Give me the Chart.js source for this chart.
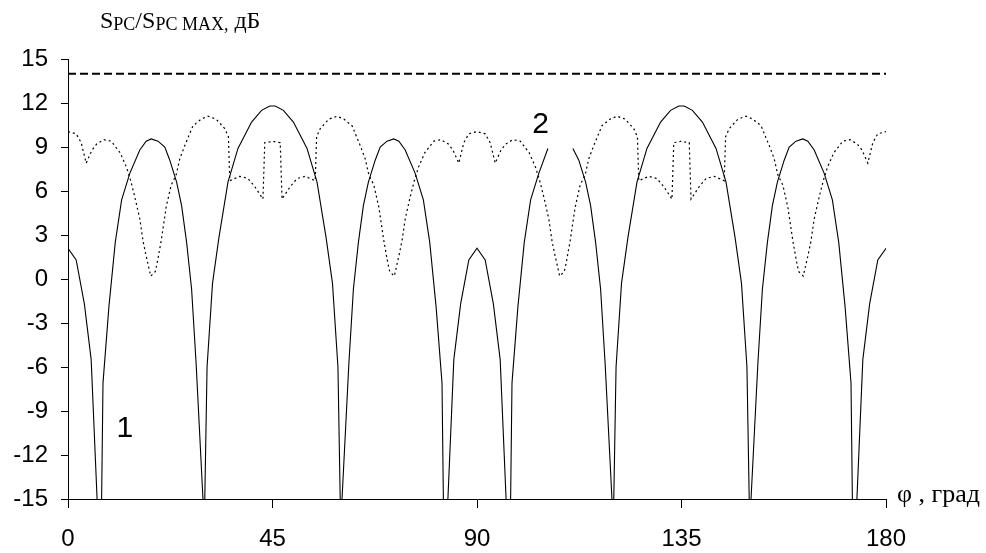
<!DOCTYPE html>
<html><head><meta charset="utf-8">
<script src="https://cdn.jsdelivr.net/npm/chart.js@4.4.1/dist/chart.umd.min.js"></script>
<style>html,body{margin:0;padding:0;background:#fff;}#wrap{width:986px;height:553px;position:relative;}</style>
</head><body><div id="wrap"><canvas id="c" width="986" height="553"></canvas></div>
<script>
// Curve 1 (solid): angle (deg) / value (dB); null = gap under label "2"
const solidAngles = [0,1.8,3.6,5.1,6.4,6.9,7.4,7.7,9.0,10.4,11.8,13.6,15.8,17.2,18.3,19.8,21.3,22.4,23.9,25.0,26.1,27.2,28.2,29.7,29.9,30.1,30.6,31.8,33.2,35.2,37.4,40.4,42.6,44.4,
45.6,47.4,49.6,52.6,54.8,56.8,58.2,59.4,59.9,60.1,60.3,61.8,62.8,63.9,65.0,66.1,67.6,68.7,70.2,71.7,72.8,74.2,76.4,78.2,79.6,81.0,82.3,82.6,83.1,83.6,84.9,86.4,88.2,90,
91.8,93.6,95.1,96.4,96.9,97.4,97.7,99.0,100.4,101.8,103.6,105.6,108.3,111.1,112.4,113.9,115.0,116.1,117.2,118.2,119.7,119.9,120.1,120.6,121.8,123.2,125.2,127.4,130.4,132.6,134.4,
135.6,137.4,139.6,142.6,144.8,146.8,148.2,149.4,149.9,150.1,150.3,151.8,152.8,153.9,155.0,156.1,157.6,158.7,160.2,161.7,162.8,164.2,166.4,168.2,169.6,171.0,172.3,172.6,173.1,173.6,174.9,176.4,178.2,180];
const solidValues = [2.1,1.3,-1.7,-5.5,-15,-40,-15,-7.1,-1.9,2.5,5.4,7.2,8.8,9.4,9.55,9.4,9.0,8.1,6.6,5.0,2.5,-0.7,-5.8,-15,-22,-15,-6.0,-0.3,2.8,6.6,8.9,10.7,11.5,11.8,
11.8,11.5,10.7,8.9,6.6,2.8,-0.3,-6.0,-15,-22,-15,-5.8,-0.7,2.5,5.0,6.6,8.1,9.0,9.4,9.55,9.4,8.8,7.2,5.4,2.5,-1.9,-7.1,-15,-40,-15,-5.5,-1.7,1.3,2.1,
1.3,-1.7,-5.5,-15,-40,-15,-7.1,-1.9,2.5,5.4,7.2,8.9,null,8.9,8.1,6.6,5.0,2.5,-0.7,-5.8,-15,-22,-15,-6.0,-0.3,2.8,6.6,8.9,10.7,11.5,11.8,
11.8,11.5,10.7,8.9,6.6,2.8,-0.3,-6.0,-15,-22,-15,-5.8,-0.7,2.5,5.0,6.6,8.1,9.0,9.4,9.55,9.4,8.8,7.2,5.4,2.5,-1.9,-7.1,-15,-40,-15,-5.5,-1.7,1.3,2.1];

// Curve 2 (dotted)
const dottedAngles = [0,1.8,2.9,4.0,5.3,6.3,7.9,9.5,11.5,12.9,13.8,14.7,15.8,16.5,17.1,18.2,19.2,19.6,20.5,21.6,22.7,23.8,24.6,25.7,27.5,29.3,30.8,32.6,34.5,35.3,35.6,37.8,39.6,41.1,42.9,43.3,44.4,45,
45.6,46.7,47.1,48.9,50.4,52.2,54.4,54.7,55.5,57.4,59.2,60.7,62.5,64.3,65.4,66.2,67.3,68.4,69.5,70.4,70.8,71.8,72.9,73.5,74.2,75.3,76.2,77.1,78.5,80.5,82.1,83.7,84.7,86.0,87.1,88.2,90,
91.8,92.9,94.0,95.3,96.3,97.9,99.5,101.5,102.9,103.8,104.7,105.8,106.5,107.1,108.2,109.2,109.6,110.5,111.6,112.7,113.8,114.6,115.7,117.5,119.3,120.8,122.6,124.5,125.3,125.6,127.8,129.6,131.1,132.9,133.3,134.4,135,
135.6,136.7,137.1,138.9,140.4,142.2,144.4,144.7,145.5,147.4,149.2,150.7,152.5,154.3,155.4,156.2,157.3,158.4,159.5,160.4,160.8,161.8,162.9,163.5,164.2,165.3,166.2,167.1,168.5,170.5,172.1,173.7,174.7,176.0,177.1,178.2,180];
const dottedValues = [10.05,9.9,9.3,7.9,8.8,9.2,9.5,9.4,8.6,7.6,6.7,5.6,4.1,2.6,1.7,0.2,0.5,1.05,2.6,4.9,6.4,7.1,8.2,9.1,10.45,10.9,11.1,10.9,10.25,9.7,6.7,7.0,6.85,6.3,5.45,9.3,9.35,9.4,
9.35,9.3,5.45,6.3,6.85,7.0,6.7,9.7,10.25,10.9,11.1,10.9,10.45,9.1,8.2,7.1,6.4,4.9,2.6,1.05,0.5,0.2,1.7,2.6,4.1,5.6,6.7,7.6,8.6,9.4,9.5,9.2,8.8,7.9,9.3,9.9,10.05,
9.9,9.3,7.9,8.8,9.2,9.5,9.4,8.6,7.6,6.7,5.6,4.1,2.6,1.7,0.2,0.5,1.05,2.6,4.9,6.4,7.1,8.2,9.1,10.45,10.9,11.1,10.9,10.25,9.7,6.7,7.0,6.85,6.3,5.45,9.3,9.35,9.4,
9.35,9.3,5.45,6.3,6.85,7.0,6.7,9.7,10.25,10.9,11.1,10.9,10.45,9.1,8.2,7.1,6.4,4.9,2.6,1.05,0.5,0.2,1.7,2.6,4.1,5.6,6.7,7.6,8.6,9.4,9.5,9.2,8.8,7.9,9.3,9.9,10.05];

// Reference level (dashed)
const refAngles = [0, 180];
const refValues = [14, 14];

const xTickValues = [0, 45, 90, 135, 180];
const yTickValues = [-15, -12, -9, -6, -3, 0, 3, 6, 9, 12, 15];

const toPts = (xs, ys) => xs.map((x, i) => ({ x: x, y: ys[i] }));

const textPlugin = {
  id: 'texts',
  afterDraw(chart) {
    const ctx = chart.ctx;
    const xs = chart.scales.x, ys = chart.scales.y;
    ctx.save();
    ctx.fillStyle = '#000';
    const serif = '"Liberation Serif", "Times New Roman", serif';
    const parts = [
      { t: 'S', f: 24, dy: 0 },
      { t: 'PC', f: 18, dy: 2 },
      { t: '/S', f: 24, dy: 0 },
      { t: 'PC MAX,', f: 18, dy: 2 },
      { t: ' дБ', f: 24, dy: 0 }
    ];
    let x = 100;
    const base = 28;
    ctx.textAlign = 'left';
    ctx.textBaseline = 'alphabetic';
    parts.forEach(p => {
      ctx.font = p.f + 'px ' + serif;
      ctx.fillText(p.t, x, base + p.dy);
      x += ctx.measureText(p.t).width;
    });
    ctx.font = '26px ' + serif;
    ctx.fillText('φ , град', xs.right + 11, ys.bottom + 3);
    ctx.font = '30px "Liberation Sans", Arial, sans-serif';
    ctx.textAlign = 'center';
    ctx.textBaseline = 'middle';
    ctx.fillText('1', xs.getPixelForValue(12.5), ys.getPixelForValue(-10.2));
    ctx.fillText('2', xs.getPixelForValue(104.0), ys.getPixelForValue(10.5));
    ctx.restore();
  }
};

new Chart(document.getElementById('c'), {
  type: 'line',
  data: {
    datasets: [
      { data: toPts(refAngles, refValues), borderColor: '#000', borderWidth: 2, borderDash: [8, 4], pointRadius: 0, fill: false },
      { data: toPts(dottedAngles, dottedValues), borderColor: '#000', borderWidth: 1.2, borderDash: [2, 3], pointRadius: 0, fill: false, tension: 0 },
      { data: toPts(solidAngles, solidValues), borderColor: '#000', borderWidth: 1.1, pointRadius: 0, fill: false, tension: 0, spanGaps: false }
    ]
  },
  options: {
    responsive: false,
    animation: false,
    events: [],
    layout: { padding: { left: 0, top: 59, right: 100, bottom: 0 } },
    plugins: { legend: { display: false }, tooltip: { enabled: false }, title: { display: false } },
    scales: {
      x: {
        type: 'linear', min: 0, max: 180,
        afterBuildTicks: s => { s.ticks = xTickValues.map(v => ({ value: v })); },
        afterFit: s => { s.height = 54; },
        grid: { drawOnChartArea: false, drawTicks: true, tickLength: 9, color: '#000', lineWidth: 1 },
        border: { display: true, color: '#000', width: 1 },
        ticks: { color: '#000', font: { family: '"Liberation Sans", Arial, sans-serif', size: 24 }, padding: 17, maxRotation: 0, autoSkip: false }
      },
      y: {
        type: 'linear', min: -15, max: 15,
        afterBuildTicks: s => { s.ticks = yTickValues.map(v => ({ value: v })); },
        afterFit: s => { s.width = 68; },
        grid: { drawOnChartArea: false, drawTicks: true, tickLength: 7, color: '#000', lineWidth: 1 },
        border: { display: true, color: '#000', width: 1 },
        ticks: { color: '#000', font: { family: '"Liberation Sans", Arial, sans-serif', size: 24 }, padding: 13, autoSkip: false }
      }
    }
  },
  plugins: [textPlugin]
});
</script>
</body></html>
